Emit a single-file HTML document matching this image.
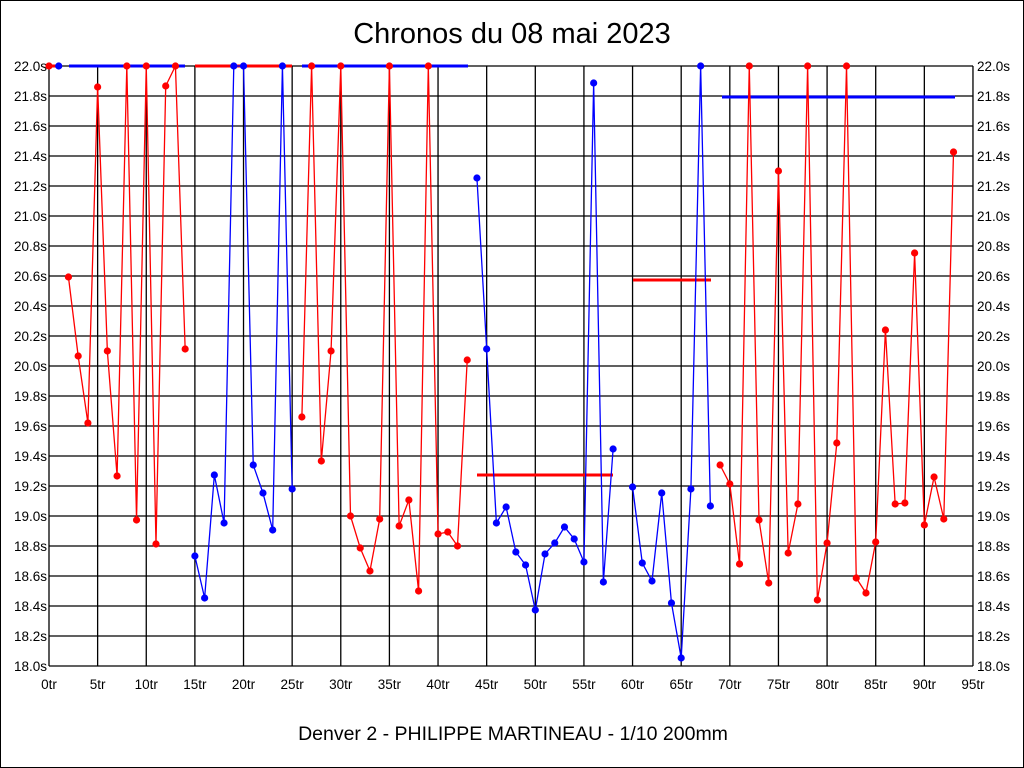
<!DOCTYPE html>
<html><head><meta charset="utf-8"><style>
html,body{margin:0;padding:0;background:#fff}
svg{display:block}
text{font-family:"Liberation Sans",sans-serif}
</style></head><body>
<svg id="s" width="1024" height="768" xmlns="http://www.w3.org/2000/svg">
<rect x="0.5" y="0.5" width="1023" height="767" fill="#fff" stroke="#000"/>
<text x="512" y="43" font-size="29" text-anchor="middle">Chronos du 08 mai 2023</text>
<text x="513" y="740" font-size="19.5" text-anchor="middle">Denver 2 - PHILIPPE MARTINEAU - 1/10 200mm</text>
<g id="g"></g>
</svg>
<script>
var g=document.getElementById('g'),h='';
var L=49,R=973,T=66,B=666;
for(var i=0;i<=20;i++){var y=T+i*30;h+='<line x1="'+L+'" y1="'+y+'" x2="'+R+'" y2="'+y+'" stroke="#000" stroke-width="1.3"/>';
var v=(22-i*0.2).toFixed(1)+'s';
h+='<text x="'+(L-2)+'" y="'+(y+5)+'" font-size="13.5" text-anchor="end">'+v+'</text>';
h+='<text x="'+(R+4)+'" y="'+(y+5)+'" font-size="13.5">'+v+'</text>';}
for(var k=0;k<=19;k++){var x=L+k*5*9.726;h+='<line x1="'+x+'" y1="'+T+'" x2="'+x+'" y2="'+B+'" stroke="#000" stroke-width="1.3"/>';
h+='<text x="'+x+'" y="'+(B+23)+'" font-size="13.5" text-anchor="middle">'+(k*5)+'tr</text>';}
function X(i){return 49+i*9.726}
function ser(pts,c){var p=pts.map(function(a){return X(a[0])+','+a[1]}).join(' ');
h+='<polyline points="'+p+'" fill="none" stroke="'+c+'" stroke-width="1.3"/>';
pts.forEach(function(a){h+='<circle cx="'+X(a[0])+'" cy="'+a[1]+'" r="3.6" fill="'+c+'"/>'});}
function hl(x1,x2,y,c){h+='<line x1="'+x1+'" y1="'+y+'" x2="'+x2+'" y2="'+y+'" stroke="'+c+'" stroke-width="3"/>';}
var red='#ff0000',blue='#0000ff';
hl(49,59,66,red);hl(69,185,66,blue);hl(195,292,66,red);hl(302,468,66,blue);
hl(477,613,475,red);hl(633,711,280,red);hl(722,955,97,blue);
ser([[0,66]],red);ser([[1,66]],blue);
ser([[2,277],[3,356],[4,423],[5,87],[6,351],[7,476],[8,66],[9,520],[10,66],[11,544],[12,86],[13,66],[14,349]],red);
ser([[15,556],[16,598],[17,475],[18,523],[19,66],[20,66],[21,465],[22,493],[23,530],[24,66],[25,489]],blue);
ser([[26,417],[27,66],[28,461],[29,351],[30,66],[31,516],[32,548],[33,571],[34,519],[35,66],[36,526],[37,500],[38,591],[39,66],[40,534],[41,532],[42,546],[43,360]],red);
ser([[44,178],[45,349],[46,523],[47,507],[48,552],[49,565],[50,610],[51,554],[52,543],[53,527],[54,539],[55,562],[56,83],[57,582],[58,449]],blue);
ser([[60,487],[61,563],[62,581],[63,493],[64,603],[65,658],[66,489],[67,66],[68,506]],blue);
ser([[69,465],[70,484],[71,564],[72,66],[73,520],[74,583],[75,171],[76,553],[77,504],[78,66],[79,600],[80,543],[81,443],[82,66],[83,578],[84,593],[85,542],[86,330],[87,504],[88,503],[89,253],[90,525],[91,477],[92,519],[93,152]],red);
g.innerHTML=h;
</script>
</body></html>
